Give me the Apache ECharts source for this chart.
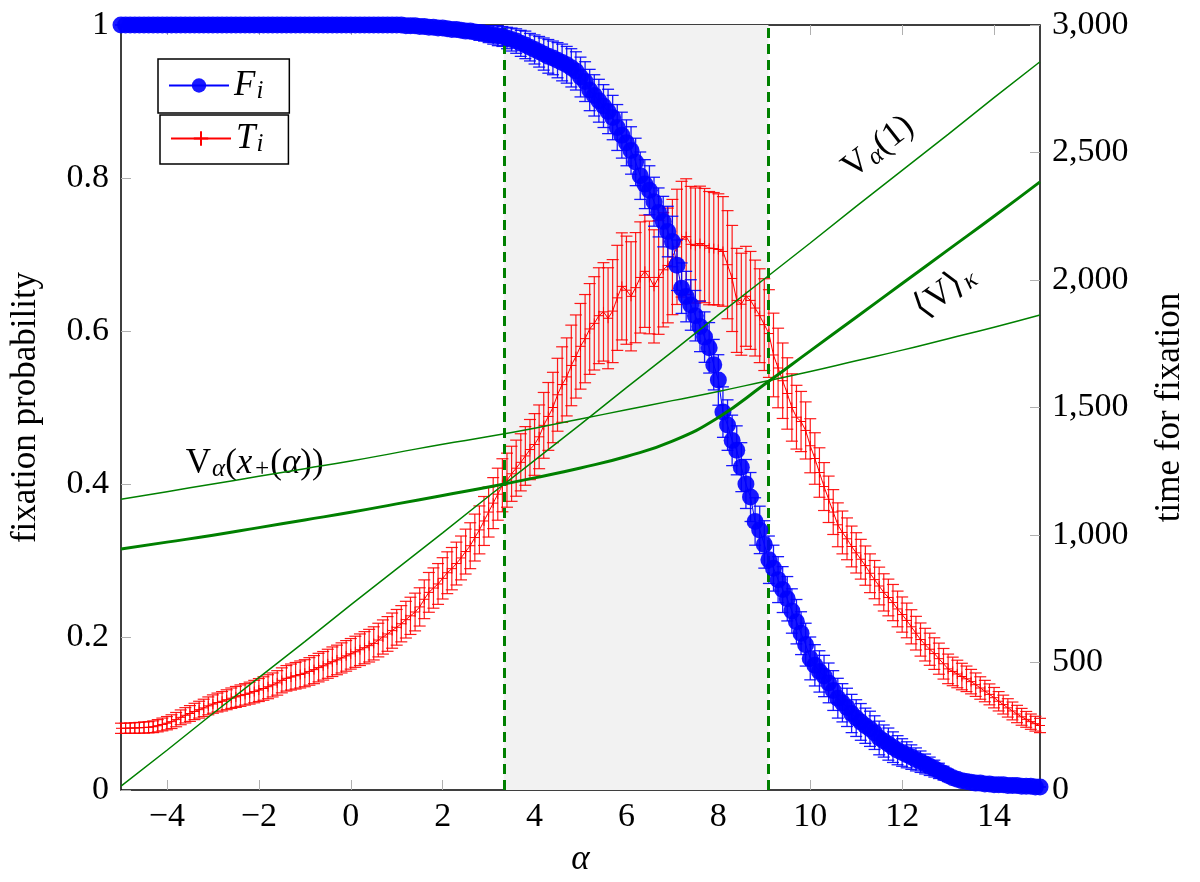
<!DOCTYPE html>
<html><head><meta charset="utf-8">
<script src="https://cdn.jsdelivr.net/npm/echarts@6/dist/echarts.min.js"></script>
<style>html,body{margin:0;padding:0;background:#fff}#c{width:1200px;height:882px}</style>
</head><body><div id="c"></div>
<script>
// alpha grid of the simulations: -5 .. 15 in steps of 0.1
const alphaStart = -5, alphaStep = 0.1;

// F_i : fixation probability (left axis)
const fixProb = [
1,1,1,1,1,1,1,1,1,1, 1,1,1,1,1,1,1,1,1,1, 1,1,1,1,1,1,1,1,1,1, 1,1,1,1,1,1,1,1,1,1, 1,1,1,1,1,1,1,1,1,1,
1,1,1,1,1,1,1,1,1,1,
1,1,0.999,0.999,0.999,0.998,
0.998,0.997,0.997,0.996,0.996,0.995,0.994,0.994,0.993,0.992,
0.992,0.991,0.990,0.989,0.988,
0.987,0.986,0.985,0.983,0.981,0.979,0.976,0.974,0.971,0.968,
0.965,0.962,0.959,0.957,0.954,0.951,0.948,0.944,0.940,0.932,
0.926,0.915,0.908,0.901,0.894,0.887,0.879,0.866,0.856,0.846,
0.836,0.821,0.803,0.792,0.784,0.769,0.755,0.743,0.730,0.717,
0.686,0.656,0.645,0.634,0.620,0.606,0.592,0.578,0.556,0.536,
0.494,0.477,0.457,0.444,0.422,0.400,0.383,0.351,0.340,0.321,
0.301,0.290,0.275,0.262,0.250,0.234,0.220,0.205,0.190,0.172,
0.163,0.155,0.149,0.140,0.130,0.120,0.114,0.108,0.100,0.094,
0.089,0.084,0.080,0.075,0.068,0.064,0.060,0.056,0.052,0.049,
0.046,0.043,0.040,0.037,0.034,0.031,0.028,0.025,0.022,0.019,
0.016,0.014,0.012,0.011,0.010,0.009,0.009,0.008,0.008,0.007,
0.007,0.007,0.006,0.006,0.006,0.005,0.005,0.005,0.004,0.004
];
const fixProbErr = [
0,0,0,0,0,0,0,0,0,0, 0,0,0,0,0,0,0,0,0,0, 0,0,0,0,0,0,0,0,0,0, 0,0,0,0,0,0,0,0,0,0, 0,0,0,0,0,0,0,0,0,0, 0,0,0,0,0,0,0,0,0,0,
0,0,0.001,0.001,0.002,0.002,0.003,0.003,0.004,0.004,
0.005,0.005,0.006,0.006,0.007,0.008,0.008,0.009,0.010,0.010,
0.011,0.012,0.013,0.013,0.014,0.015,0.016,0.017,0.018,0.018,
0.019,0.020,0.021,0.022,0.022,0.023,0.024,0.024,0.025,0.025,
0.026,0.026,0.027,0.027,0.028,0.028,0.029,0.029,0.030,0.030,
0.030,0.031,0.031,0.031,0.032,0.032,0.032,0.032,0.033,0.033,
0.033,0.033,0.033,0.033,0.033,0.033,0.033,0.033,0.033,0.033,
0.033,0.033,0.033,0.033,0.032,0.032,0.032,0.032,0.031,0.031,
0.031,0.031,0.030,0.030,0.030,0.029,0.029,0.029,0.028,0.028,
0.028,0.027,0.027,0.027,0.026,0.026,0.026,0.025,0.025,0.025,
0.024,0.024,0.023,0.023,0.022,0.022,0.021,0.021,0.020,0.019,
0.018,0.017,0.016,0.015,0.014,0.013,0.012,0.011,0.010,0.009,
0.008,0.007,0.006,0.005,0.005,0.004,0.004,0.003,0.003,0.002,
0.002,0.002,0.001,0.001,0.001,0.001,0.001,0,0,0,0
];

// T_i : time for fixation (right axis)
const fixTime = [
242,242,243,243,244,245,246,248,252,257,
262,268,276,285,293,300,308,315,322,330,
337,343,348,354,360,365,370,375,380,386,
392,398,405,412,420,430,438,443,448,453,
458,465,472,480,487,495,503,510,518,526,
534,542,550,558,566,575,588,600,612,625,
638,652,668,683,698,718,748,775,792,808,
830,852,868,888,910,935,958,990,1020,1055,
1090,1125,1160,1195,1215,1240,1262,1285,1310,1335,
1355,1385,1430,1465,1500,1550,1590,1620,1665,1700,
1740,1770,1808,1830,1860,1875,1850,1878,1930,1975,
1960,1936,1970,2010,2034,2010,1975,2010,2040,2057,
2090,2130,2160,2170,2140,2135,2143,2135,2125,2123,
2120,2112,2060,2006,1920,1905,1936,1920,1890,1860,
1825,1790,1706,1655,1605,1555,1500,1462,1445,1410,
1350,1300,1245,1190,1140,1090,1040,1010,985,955,
930,905,880,850,825,800,775,755,735,710,
688,665,640,615,590,570,552,535,515,495,
475,465,455,445,436,425,413,400,388,375,
362,348,335,322,310,298,287,277,268,260,253
];
const fixTimeErr = [
20,20,20,21,21,22,22,23,24,25,
26,27,28,29,30,31,32,33,34,35,
36,37,38,39,40,41,42,42,43,44,
45,46,47,47,48,49,50,51,52,53,
53,54,55,56,56,57,58,58,59,60,
60,61,62,63,64,65,66,67,68,69,
70,71,72,73,74,75,76,78,79,80,
81,82,83,84,86,88,90,92,94,96,
98,100,102,104,106,108,110,112,115,118,
121,125,129,133,138,143,148,153,158,163,
168,173,178,183,188,193,198,202,206,210,
212,214,216,218,220,221,222,223,224,225,
226,226,227,227,227,226,225,224,222,220,
218,215,212,208,204,200,196,192,188,184,
180,172,164,156,148,140,132,125,118,112,
106,101,97,94,91,88,86,84,82,80,
79,78,77,76,75,74,73,72,71,70,
69,68,67,66,65,64,63,62,61,60,
58,56,54,52,50,48,46,44,42,41,
40,38,37,36,35,34,33,31,30,29,28
];

// theoretical curves (left axis), sampled at integer alpha
const curveAlpha  = [-5,-4,-3,-2,-1,0,1,2,3,4,5,6,7,8,9,10,11,12,13,14,15];
const vAlpha1     = [0.005,0.052,0.100,0.147,0.194,0.242,0.289,0.336,0.384,0.431,0.478,0.526,0.573,0.621,0.668,0.715,0.763,0.810,0.857,0.905,0.952];
const vAlphaXplus = [0.380,0.390,0.400,0.410,0.420,0.430,0.441,0.452,0.462,0.473,0.485,0.497,0.509,0.521,0.534,0.547,0.561,0.575,0.590,0.605,0.621];
const vMeanKappa  = [0.315,0.324,0.333,0.343,0.353,0.363,0.374,0.385,0.396,0.408,0.421,0.436,0.456,0.487,0.530,0.574,0.618,0.662,0.706,0.750,0.795];

// region boundaries
const alphaLow = 3.33, alphaHigh = 9.09;

// ticks
const xTicks = [-4,-2,0,2,4,6,8,10,12,14];
const xTickLabels = ['\u22124','\u22122','0','2','4','6','8','10','12','14'];
const leftTicks = [0,0.2,0.4,0.6,0.8,1];
const leftTickLabels = ['0','0.2','0.4','0.6','0.8','1'];
const rightTicks = [0,500,1000,1500,2000,2500,3000];
const rightTickLabels = ['0','500','1,000','1,500','2,000','2,500','3,000'];

const FONT = 'Liberation Serif';
const GREEN = '#008000';
const alphaAt = i => +(alphaStart + i*alphaStep).toFixed(2);
const pick = (ticks, labels) => v => { const i = ticks.findIndex(t => Math.abs(t - v) < 1e-6); return i >= 0 ? labels[i] : ''; };

const blueSeries = fixProb.map((v,i) => [alphaAt(i), v]);
const blueErr = fixProb.map((v,i) => [alphaAt(i), v - fixProbErr[i], v + fixProbErr[i]]);
const redSeries = fixTime.map((v,i) => [alphaAt(i), v]);
const redErr = fixTime.map((v,i) => [alphaAt(i), v - fixTimeErr[i], v + fixTimeErr[i]]);
const curve = arr => arr.map((v,i) => [curveAlpha[i], v]);

function errorBars(color, cap, width) {
  return function (params, api) {
    const x = api.value(0), lo = api.value(1), hi = api.value(2);
    const a = api.coord([x, lo]), b = api.coord([x, hi]);
    const st = { stroke: color, lineWidth: width, opacity: 0.9 };
    return { type: 'group', children: [
      { type: 'line', shape: { x1: a[0], y1: a[1], x2: b[0], y2: b[1] }, style: st },
      { type: 'line', shape: { x1: a[0]-cap, y1: a[1], x2: a[0]+cap, y2: a[1] }, style: st },
      { type: 'line', shape: { x1: b[0]-cap, y1: b[1], x2: b[0]+cap, y2: b[1] }, style: st }
    ]};
  };
}

const mathRich = {
  n:   { fontFamily: FONT, fontSize: 35, color: '#000' },
  it:  { fontFamily: FONT, fontSize: 35, fontStyle: 'italic', color: '#000' },
  s:   { fontFamily: FONT, fontSize: 25, fontStyle: 'italic', color: '#000', verticalAlign: 'bottom', padding: [12,0,0,1] }
};

function textMark(coord, text, rotate) {
  return { coord: coord, symbol: 'circle', symbolSize: 0,
    label: { show: true, position: 'inside', formatter: text, rotate: rotate, rich: mathRich, color: '#000' } };
}

const tickStyle = { inside: true, length: 10, lineStyle: { color: '#b0b0b0' } };

const chart = echarts.init(document.getElementById('c'), null, { renderer: 'canvas' });
chart.setOption({
  animation: false,
  backgroundColor: '#fff',
  grid: { left: 120, right: 160, top: 25, bottom: 87, show: true, borderColor: '#000', borderWidth: 1.5, backgroundColor: 'transparent' },
  legend: [
    { left: 158, top: 59, orient: 'vertical', data: ['F'], itemWidth: 60, itemHeight: 18, padding: [9, 26, 9, 10],
      borderColor: '#000', borderWidth: 1.5, backgroundColor: '#fff',
      formatter: () => '{it|F}{s|i}', textStyle: { rich: mathRich } },
    { left: 160, top: 115, orient: 'vertical', data: ['T'], itemWidth: 60, itemHeight: 18, padding: [6, 25, 7, 10],
      borderColor: '#000', borderWidth: 1.5, backgroundColor: '#fff',
      formatter: () => '{it|T}{s|i}', textStyle: { rich: mathRich } }
  ],
  xAxis: [
    { type: 'value', min: -5, max: 15, position: 'bottom',
      name: 'α', nameLocation: 'middle', nameGap: 52,
      nameTextStyle: { fontFamily: FONT, fontSize: 35, fontStyle: 'italic', color: '#000' },
      axisLine: { show: false, onZero: false }, splitLine: { show: false },
      axisTick: Object.assign({ customValues: xTicks }, tickStyle),
      axisLabel: { customValues: xTicks, formatter: pick(xTicks, xTickLabels), margin: 10, fontFamily: FONT, fontSize: 34, color: '#000' } },
    { type: 'value', min: -5, max: 15, position: 'top',
      axisLine: { show: false, onZero: false }, splitLine: { show: false },
      axisTick: Object.assign({ customValues: xTicks }, tickStyle),
      axisLabel: { show: false } }
  ],
  yAxis: [
    { type: 'value', min: 0, max: 1, interval: 0.2, position: 'left',
      name: 'fixation probability', nameLocation: 'middle', nameGap: 78, nameRotate: 90,
      nameTextStyle: { fontFamily: FONT, fontSize: 35, color: '#000' },
      axisLine: { show: false, onZero: false }, splitLine: { show: false },
      axisTick: tickStyle,
      axisLabel: { formatter: pick(leftTicks, leftTickLabels), margin: 12, fontFamily: FONT, fontSize: 34, color: '#000' } },
    { type: 'value', min: 0, max: 3000, interval: 500, position: 'right',
      name: 'time for fixation', nameLocation: 'middle', nameGap: 112, nameRotate: 90,
      nameTextStyle: { fontFamily: FONT, fontSize: 35, color: '#000' },
      axisLine: { show: false, onZero: false }, splitLine: { show: false },
      axisTick: tickStyle,
      axisLabel: { formatter: pick(rightTicks, rightTickLabels), margin: 12, fontFamily: FONT, fontSize: 34, color: '#000' } }
  ],
  series: [
    { name: 'shade', type: 'line', data: [], z: 0, silent: true,
      markArea: { silent: true, itemStyle: { color: '#f2f2f2' }, data: [[{ xAxis: alphaLow }, { xAxis: alphaHigh }]] } },
    { name: 'Terr', type: 'custom', yAxisIndex: 1, data: redErr, encode: { x: 0, y: [1, 2] },
      renderItem: errorBars('#ff0000', 6, 1.2), z: 2, silent: true },
    { name: 'T', type: 'line', yAxisIndex: 1, data: redSeries, z: 3,
      symbol: 'path://M0,5L10,5M5,0L5,10', symbolSize: 10, showAllSymbol: true,
      itemStyle: { color: '#ff0000', borderColor: '#ff0000', borderWidth: 1 },
      lineStyle: { color: '#ff0000', width: 1 } },
    { name: 'Ferr', type: 'custom', data: blueErr, encode: { x: 0, y: [1, 2] },
      renderItem: errorBars('#0000ff', 6, 1.3), z: 4, silent: true },
    { name: 'F', type: 'line', data: blueSeries, z: 5, clip: false,
      symbol: 'circle', symbolSize: 17, showAllSymbol: true,
      itemStyle: { color: '#0000ff', opacity: 0.9 },
      lineStyle: { color: '#0000ff', width: 1 } },
    { name: 'V1', type: 'line', data: curve(vAlpha1), z: 6, symbol: 'none',
      lineStyle: { color: GREEN, width: 1.5 },
      markPoint: { data: [ textMark([11.48, 0.840], '{n|V}{s|α}{n|(1)}', 38) ] } },
    { name: 'Vx', type: 'line', data: curve(vAlphaXplus), z: 6, symbol: 'none', smooth: true,
      lineStyle: { color: GREEN, width: 1.5 },
      markPoint: { data: [ textMark([-2.09, 0.427], '{n|V}{s|α}{n|(}{it|x}{s|+}{n|(}{it|α}{n|))}', 0) ] } },
    { name: 'Vk', type: 'line', data: curve(vMeanKappa), z: 6, symbol: 'none', smooth: true,
      lineStyle: { color: GREEN, width: 3 },
      markPoint: { data: [ textMark([12.93, 0.651], '{n|⟨V⟩}{s|κ}', 36) ] } },
    { name: 'bounds', type: 'line', data: [], z: 7, silent: true,
      markLine: { silent: true, symbol: ['none', 'none'], label: { show: false },
        lineStyle: { color: GREEN, width: 3, type: [10, 6] },
        data: [{ xAxis: alphaLow }, { xAxis: alphaHigh }] } }
  ]
});
</script>
</body></html>
